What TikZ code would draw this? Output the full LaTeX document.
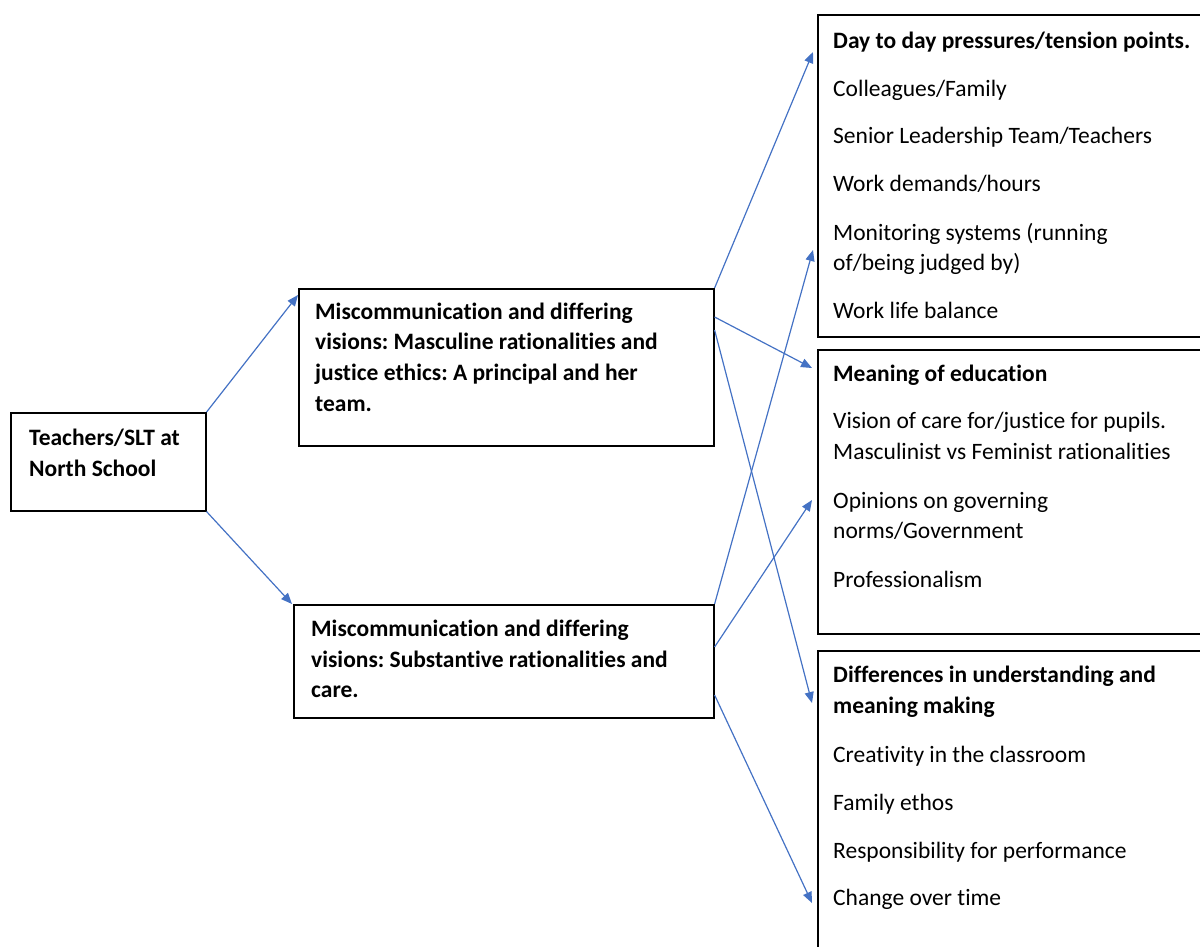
\documentclass[tikz,border=0pt]{standalone}
\usepackage{fontspec}
\setmainfont[Ligatures={NoCommon}]{Carlito}
\usetikzlibrary{arrows.meta}
\definecolor{arrowblue}{HTML}{4472C4}
\frenchspacing
\tikzset{
  box/.style={draw=black, line width=1.6pt, inner sep=0pt, anchor=north west, rectangle},
  txt/.style={anchor=base west, inner sep=0pt, font=\fontsize{23.5}{31}\selectfont},
  hd/.style={txt, font=\fontsize{23.5}{31}\selectfont\bfseries},
  arr/.style={draw=arrowblue, line width=1.2pt, -{Triangle[length=11pt,width=9pt]}}
}
\begin{document}
\begin{tikzpicture}[x=1pt,y=-1pt]
\useasboundingbox (0,0) rectangle (1200,946);
\clip (0,0) rectangle (1200,946);
% boxes
\node[box, minimum width=195pt, minimum height=98pt] (A) at (10,412) {};
\node[box, minimum width=415pt, minimum height=157pt] (B) at (298,288) {};
\node[box, minimum width=420pt, minimum height=113pt] (C) at (293,604) {};
\node[box, minimum width=400pt, minimum height=322pt] (D) at (817,14) {};
\node[box, minimum width=400pt, minimum height=284pt] (E) at (817,349) {};
\node[box, minimum width=400pt, minimum height=320pt] (F) at (817,650) {};
% box A text
\node[hd] (a1) at (29,445) {Teachers/SLT at};
\node[hd] (a2) at (29,476.5) {North School};
% box B text
\node[hd] (b1) at (315,319) {Miscommunication and differing};
\node[hd] (b2) at (315,349.5) {visions: Masculine rationalities and};
\node[hd] (b3) at (315,380) {justice ethics: A principal and her};
\node[hd] (b4) at (315,411) {team.};
% box C text
\node[hd] (c1) at (311,636.5) {Miscommunication and differing};
\node[hd] (c2) at (311,667) {visions: Substantive rationalities and};
\node[hd] (c3) at (311,697) {care.};
% box D text
\node[hd] (d1) at (833,48) {Day to day pressures/tension points.};
\node[txt] (d2) at (833,96) {Colleagues/Family};
\node[txt] (d3) at (833,143) {Senior Leadership Team/Teachers};
\node[txt] (d4) at (833,191) {Work demands/hours};
\node[txt] (d5) at (833,240) {Monitoring systems (running};
\node[txt] (d6) at (833,270.5) {of/being judged by)};
\node[txt] (d7) at (833,318) {Work life balance};
% box E text
\node[hd] (e1) at (833,381) {Meaning of education};
\node[txt] (e2) at (833,428.5) {Vision of care for/justice for pupils.};
\node[txt] (e3) at (833,459) {Masculinist vs Feminist rationalities};
\node[txt] (e4) at (833,508) {Opinions on governing};
\node[txt] (e5) at (833,538.5) {norms/Government};
\node[txt] (e6) at (833,587) {Professionalism};
% box F text
\node[hd] (f1) at (833,682) {Differences in understanding and};
\node[hd] (f2) at (833,713) {meaning making};
\node[txt] (f3) at (833,762) {Creativity in the classroom};
\node[txt] (f4) at (833,810) {Family ethos};
\node[txt] (f5) at (833,858) {Responsibility for performance};
\node[txt] (f6) at (833,905) {Change over time};
% arrows
\draw[arr] (A.north east) -- ([yshift=-7pt]B.north west);
\draw[arr] (A.south east) -- ([xshift=-1pt]C.north west);
\draw[arr] (B.north east) -- ([xshift=-4pt,yshift=-38pt]D.north west);
\draw[arr] ([yshift=-29pt]B.north east) -- ([xshift=-5pt,yshift=-19pt]E.north west);
\draw[arr] ([yshift=-42pt]B.north east) -- ([xshift=-5pt,yshift=-53pt]F.north west);
\draw[arr] (C.north east) -- ([xshift=-4pt,yshift=-236pt]D.north west);
\draw[arr] ([yshift=-43pt]C.north east) -- ([xshift=-5pt,yshift=-151pt]E.north west);
\draw[arr] ([yshift=-91pt]C.north east) -- ([xshift=-5pt,yshift=-253pt]F.north west);
\end{tikzpicture}
\end{document}
